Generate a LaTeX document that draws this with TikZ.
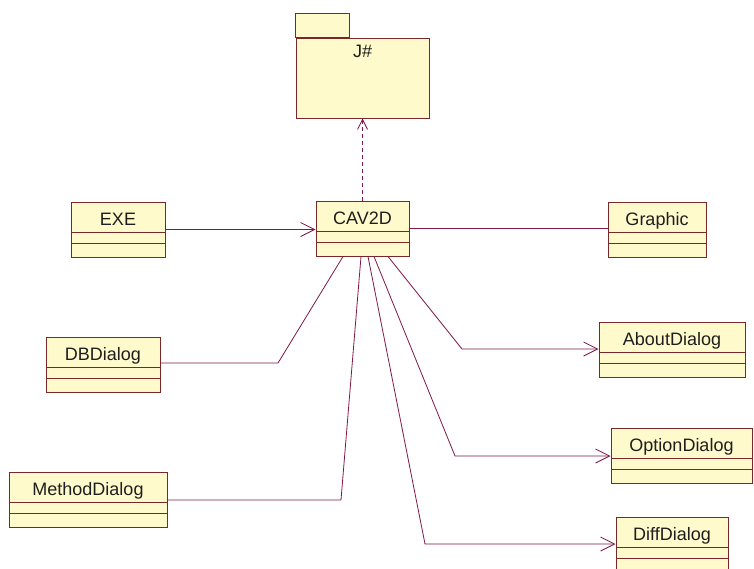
\documentclass[tikz,border=0pt]{standalone}
\usepackage{fontspec}
\setmainfont{Liberation Sans}
\usetikzlibrary{arrows.meta}

\definecolor{boxline}{RGB}{120,40,40}
\definecolor{boxfill}{RGB}{255,250,204}
\definecolor{wire}{RGB}{128,24,72}
\definecolor{ink}{RGB}{30,30,30}

\tikzset{
  umlclass/.style={
    rectangle, draw=boxline, fill=boxfill, line width=1pt,
    inner xsep=0pt, inner ysep=0pt,
    text height=23pt, text depth=32pt,
    font=\fontsize{18}{21}\selectfont, text=ink,
    path picture={
      \draw[boxline, line width=1pt]
        ([yshift=-30pt]path picture bounding box.north west) --
        ([yshift=-30pt]path picture bounding box.north east);
      \draw[boxline, line width=1pt]
        ([yshift=-41pt]path picture bounding box.north west) --
        ([yshift=-41pt]path picture bounding box.north east);
    }
  },
  umlpackage/.style={
    rectangle, draw=boxline, fill=boxfill, line width=1pt,
    inner xsep=0pt, inner ysep=0pt,
    text height=19pt, text depth=61pt,
    font=\fontsize{18}{21}\selectfont, text=ink
  },
  wire/.style={draw=wire, line width=0.8pt},
  navarrow/.style={wire, -{Straight Barb[length=14pt, width=14pt]}},
  deparrow/.style={wire, dash pattern=on 4pt off 3pt,
    -{Straight Barb[length=10pt, width=10pt]}}
}

\begin{document}
\begin{tikzpicture}[x=1pt, y=-1pt]
  \useasboundingbox (0,0) rectangle (754,568);
  \clip (0,0) rectangle (754,568);
  \fill[white] (0,0) rectangle (754,568);

  % package J#
  \node[umlpackage, minimum width=133pt] (jsharp) at (362.5,78) {J\#};
  \draw[boxline, fill=boxfill, line width=1pt]
    (jsharp.north west) rectangle ([xshift=54pt, yshift=24pt]jsharp.north west);

  % classes
  \node[umlclass, minimum width=93pt]  (cav)    at (362.5,228.5) {CAV2D};
  \node[umlclass, minimum width=94pt]  (exe)    at (118,229.5)   {EXE};
  \node[umlclass, minimum width=98pt]  (graph)  at (657,229.5)   {Graphic};
  \node[umlclass, minimum width=114pt] (db)     at (103,364.5)   {DBDialog};
  \node[umlclass, minimum width=146pt] (about)  at (672,349.5)   {AboutDialog};
  \node[umlclass, minimum width=141pt] (option) at (681.5,455.5) {OptionDialog};
  \node[umlclass, minimum width=112pt] (diff)   at (672,544.5)   {DiffDialog};
  \node[umlclass, minimum width=158pt] (method) at (88,499.5)    {MethodDialog};

  % bend points of the associations
  \coordinate (dbbend)     at (278,363);
  \coordinate (methodbend) at (341,500);
  \coordinate (aboutbend)  at (462,349);
  \coordinate (optionbend) at (455,456);
  \coordinate (diffbend)   at (425,544);

  % dependency on the package
  \draw[deparrow] (cav.north) -- (jsharp.south);

  % associations
  \draw[navarrow] (exe.east) -- (exe.east -| cav.west);
  \draw[wire] (cav.east) -- (cav.east -| graph.west);
  \draw[wire] ([xshift=-19.5pt]cav.south) -- (dbbend) -- (dbbend -| db.east);
  \draw[wire] ([xshift=-1.5pt]cav.south) -- (methodbend) -- (methodbend -| method.east);
  \draw[navarrow] ([xshift=25.5pt]cav.south) -- (aboutbend) -- (aboutbend -| about.west);
  \draw[navarrow] ([xshift=11.5pt]cav.south) -- (optionbend) -- (optionbend -| option.west);
  \draw[navarrow] ([xshift=5.5pt]cav.south) -- (diffbend) -- (diffbend -| diff.west);
\end{tikzpicture}
\end{document}
